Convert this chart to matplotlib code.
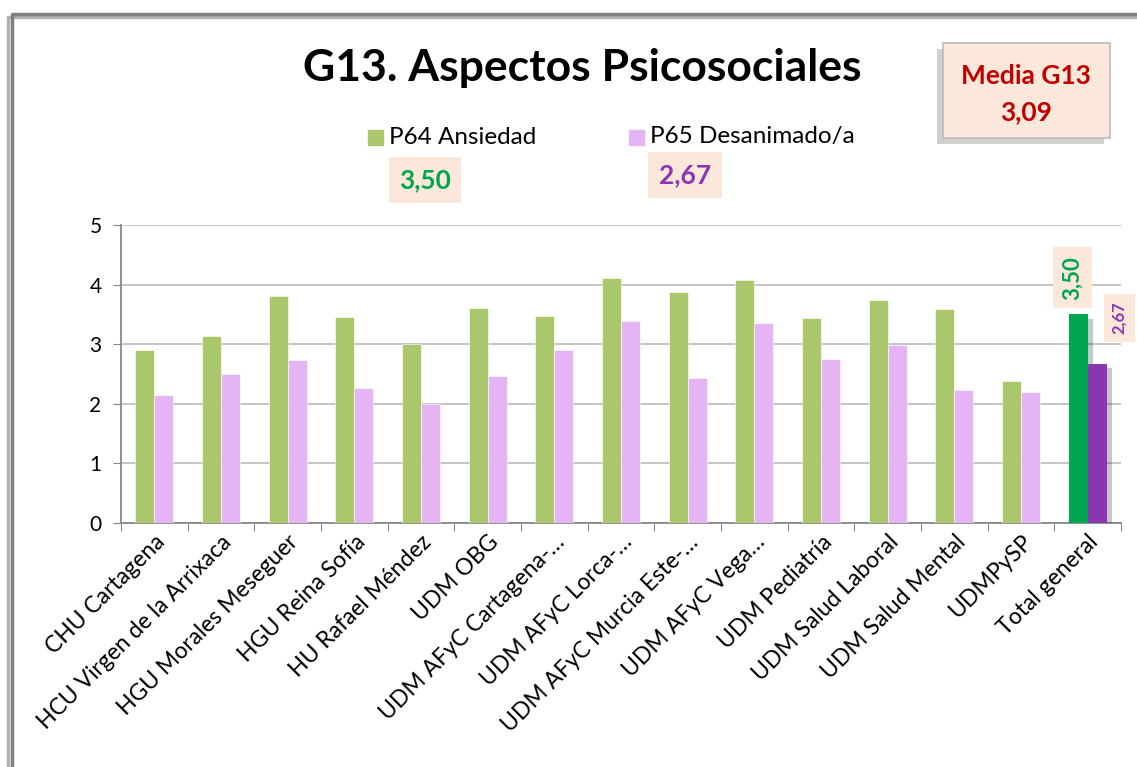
import matplotlib.pyplot as plt
import matplotlib.patches as patches
import matplotlib.patheffects as pe
from matplotlib.lines import Line2D
import numpy as np

plt.rcParams['font.family'] = ['Lato', 'DejaVu Sans']

categorias = ["CHU Cartagena", "HCU Virgen de la Arrixaca", "HGU Morales Meseguer",
              "HGU Reina Sofía", "HU Rafael Méndez", "UDM OBG",
              "UDM AFyC Cartagena-…", "UDM AFyC Lorca-…", "UDM AFyC Murcia Este-…",
              "UDM AFyC Vega…", "UDM Pediatría", "UDM Salud Laboral",
              "UDM Salud Mental", "UDMPySP", "Total general"]
p64 = [2.90, 3.14, 3.81, 3.46, 3.00, 3.61, 3.48, 4.11, 3.88, 4.08, 3.44, 3.74, 3.59, 2.39, 3.50]
p65 = [2.15, 2.50, 2.74, 2.27, 1.99, 2.47, 2.91, 3.39, 2.44, 3.35, 2.75, 2.99, 2.23, 2.19, 2.67]
media_g13 = 3.09

verde, rosa = '#AAC86B', '#E4B4F4'
verde_t, morado_t = '#00A550', '#8B35B0'
fondo_caja = '#FCE8DA'

W, H = 1137, 767
fig = plt.figure(figsize=(W / 100, H / 100), dpi=100)

# marco exterior del grafico (solo bordes superior e izquierdo visibles)
marco = Line2D([12 / W, 12 / W, 1.01], [-0.01, 1 - 14 / H, 1 - 14 / H],
               transform=fig.transFigure, color='#808080', lw=2.5, zorder=-1,
               path_effects=[pe.SimpleLineShadow(offset=(-3, -2), alpha=0.3, shadow_color='k'),
                             pe.Normal()])
fig.lines.append(marco)

ax = fig.add_axes([121 / W, 1 - 523 / H, 1000 / W, 298 / H])
ax.patch.set_alpha(0)
x = np.arange(len(categorias))
bw = 0.285
cg = [verde] * (len(x) - 1) + [verde_t]
cp = [rosa] * (len(x) - 1) + [morado_t]
b1 = ax.bar(x - bw / 2, p64, bw, color=cg, edgecolor='white', lw=0.4, zorder=3)
b2 = ax.bar(x + bw / 2, p65, bw, color=cp, edgecolor='white', lw=0.4, zorder=3)
for b in (b1[-1], b2[-1]):
    b.set_edgecolor('none')
    b.set_path_effects([pe.SimplePatchShadow(offset=(4, -3), alpha=0.25), pe.Normal()])

ax.set_xlim(-0.5, len(x) - 0.5)
ax.set_ylim(0, 5)
ax.set_yticks(range(6))
ax.yaxis.grid(True, color='#BFBFBF', lw=1.3, zorder=0)
ax.set_axisbelow(True)
for s in ('top', 'right'):
    ax.spines[s].set_visible(False)
for s in ('left', 'bottom'):
    ax.spines[s].set_color('#888888')
    ax.spines[s].set_linewidth(1.3)
ax.tick_params(axis='y', length=6, color='#888888', labelsize=15, pad=8)
ax.set_xticks(np.arange(-0.5, len(x), 1), minor=False)
ax.set_xticklabels([])
ax.tick_params(axis='x', length=6, color='#888888', direction='out')
ax.set_xticks(x, minor=True)
ax.set_xticklabels(categorias, minor=True, rotation=45, ha='right',
                   rotation_mode='anchor', fontsize=16.5)
ax.tick_params(axis='x', which='minor', length=0, pad=6)

# etiquetas de valor de la barra total
n = len(x) - 1
ax.text(n - bw / 2 - 0.08, p64[n] + 0.25, f"{p64[n]:.2f}".replace('.', ','), rotation=90,
        ha='center', va='bottom', color=verde_t, fontsize=16, fontweight='bold',
        bbox=dict(boxstyle='square,pad=0.4', fc=fondo_caja, ec='none'), zorder=4)
ax.text(n + bw / 2 + 0.33, p65[n] + 0.5, f"{p65[n]:.2f}".replace('.', ','), rotation=90,
        ha='center', va='bottom', color=morado_t, fontsize=12, fontweight='bold',
        bbox=dict(boxstyle='square,pad=0.45', fc=fondo_caja, ec='none'), clip_on=False)

# titulo y leyenda
fig.text(582 / W, 1 - 68 / H, "G13. Aspectos Psicosociales", ha='center', va='center',
         fontsize=32, fontweight='bold')
for xs, c, lab in ((368, verde, "P64 Ansiedad"), (629, rosa, "P65 Desanimado/a")):
    fig.patches.append(patches.Rectangle((xs / W, 1 - 145 / H), 15 / W, 15 / H,
                                         transform=fig.transFigure, color=c))
    fig.text((xs + 21) / W, 1 - 137 / H, lab, ha='left', va='center', fontsize=17.5)

fig.text(425 / W, 1 - 180 / H, f"{p64[n]:.2f}".replace('.', ','), ha='center', va='center',
         color=verde_t, fontsize=19, fontweight='bold',
         bbox=dict(boxstyle='square,pad=0.4', fc=fondo_caja, ec='none'))
fig.text(685 / W, 1 - 175 / H, f"{p65[n]:.2f}".replace('.', ','), ha='center', va='center',
         color=morado_t, fontsize=19, fontweight='bold',
         bbox=dict(boxstyle='square,pad=0.4', fc=fondo_caja, ec='none'))

# recuadro de la media del grupo
fig.patches.append(patches.Rectangle((943 / W, 1 - 138 / H), 167 / W, 95 / H,
                                     transform=fig.transFigure, fc=fondo_caja,
                                     ec='#BBBBBB', lw=1.2,
                                     path_effects=[pe.SimplePatchShadow(offset=(-4, -4), alpha=0.25),
                                                   pe.Normal()]))
fig.text(1026 / W, 1 - 76 / H, "Media G13", ha='center', va='center', color='#C00000',
         fontsize=19, fontweight='bold')
fig.text(1026 / W, 1 - 112 / H, f"{media_g13:.2f}".replace('.', ','), ha='center',
         va='center', color='#C00000', fontsize=19, fontweight='bold')

fig.savefig('out.png', dpi=100)
